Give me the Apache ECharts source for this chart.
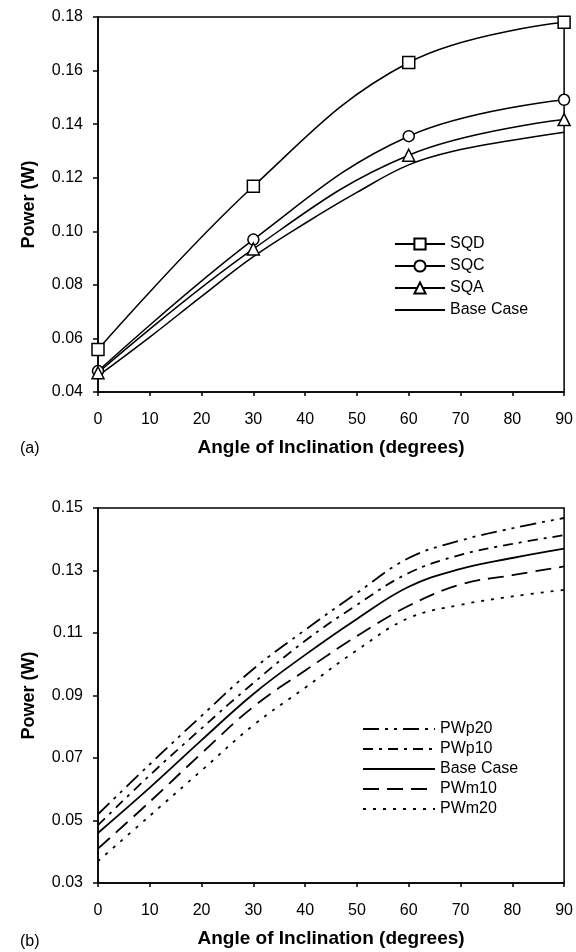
<!DOCTYPE html>
<html>
<head>
<meta charset="utf-8">
<script src="https://cdn.jsdelivr.net/npm/echarts@6/dist/echarts.min.js"></script>
<style>
  html, body { margin: 0; padding: 0; background: #fff; }
  #chart { width: 576px; height: 952px; }
</style>
</head>
<body>
<div id="chart"></div>
<script>
// angles (degrees)
const angles10 = [0, 10, 20, 30, 40, 50, 60, 70, 80, 90]
const angles30 = [0, 30, 60, 90]

// (a) shape cases, read at the marked points
const sqd = [0.0559, 0.1168, 0.1630, 0.1780]
const sqc = [0.0478, 0.0969, 0.1355, 0.1491]
const sqa = [0.0472, 0.0934, 0.1284, 0.1417]

// base case, shared by both panels
const baseCase = [0.0460, 0.0605, 0.0757, 0.0905, 0.1030, 0.1145, 0.1248, 0.1305, 0.1340, 0.1370]

// (b) power variations
const pwp20 = [0.0520, 0.0680, 0.0835, 0.0985, 0.1110, 0.1228, 0.1340, 0.1396, 0.1435, 0.1468]
const pwp10 = [0.0485, 0.0645, 0.0795, 0.0940, 0.1075, 0.1190, 0.1292, 0.1350, 0.1385, 0.1413]
const pwm10 = [0.0410, 0.0560, 0.0715, 0.0864, 0.0980, 0.1090, 0.1187, 0.1255, 0.1285, 0.1313]
const pwm20 = [0.0370, 0.0515, 0.0660, 0.0805, 0.0925, 0.1045, 0.1148, 0.1190, 0.1217, 0.1238]

const xTicks = { min: 0, max: 90, interval: 10 }
const yTicksA = { min: 0.04, max: 0.18, interval: 0.02 }
const yTicksB = { min: 0.03, max: 0.15, interval: 0.02 }

const FONT = 'Liberation Sans, Arial, sans-serif'
const INK = '#000'

const pairs = (xs, ys) => xs.map((x, i) => [x, ys[i]])

const xAxisOf = (gridIndex) => ({
  type: 'value',
  gridIndex,
  min: xTicks.min,
  max: xTicks.max,
  interval: xTicks.interval,
  name: 'Angle of Inclination (degrees)',
  nameLocation: 'middle',
  nameGap: 46,
  nameTextStyle: { fontFamily: FONT, fontSize: 19, fontWeight: 'bold', color: INK },
  axisLine: { lineStyle: { color: INK, width: 1.5 } },
  axisTick: { inside: false, length: 4, lineStyle: { color: INK, width: 1.5 } },
  axisLabel: { margin: 20, fontFamily: FONT, fontSize: 16, color: INK },
  splitLine: { show: false }
})

const yAxisOf = (gridIndex, t) => ({
  type: 'value',
  gridIndex,
  min: t.min,
  max: t.max,
  interval: t.interval,
  name: 'Power (W)',
  nameLocation: 'middle',
  nameGap: 60,
  nameTextStyle: { fontFamily: FONT, fontSize: 18, fontWeight: 'bold', color: INK },
  axisLine: { lineStyle: { color: INK, width: 1.5 } },
  axisTick: { inside: false, length: 5, lineStyle: { color: INK, width: 1.5 } },
  axisLabel: {
    margin: 15, fontFamily: FONT, fontSize: 16, color: INK,
    formatter: (v) => v.toFixed(2)
  },
  splitLine: { show: false }
})

const markerLine = (name, data, symbol, size) => ({
  name,
  type: 'line',
  xAxisIndex: 0,
  yAxisIndex: 0,
  data: pairs(angles30, data),
  smooth: 0.4,
  symbol,
  symbolSize: size,
  itemStyle: { color: '#fff', borderColor: INK, borderWidth: 1.5 },
  lineStyle: { color: INK, width: 1.5 },
  z: 3
})

const dashLine = (name, data, dash) => ({
  name,
  type: 'line',
  xAxisIndex: 1,
  yAxisIndex: 1,
  data: pairs(angles10, data),
  smooth: 0.4,
  symbol: 'none',
  itemStyle: { color: INK },
  lineStyle: { color: INK, width: 1.8, type: dash }
})

// legend entries for plain lines: hide the dot echarts puts on them
const plain = (name) => ({ name, itemStyle: { opacity: 0 } })

const chart = echarts.init(document.getElementById('chart'), null, { renderer: 'canvas' })

chart.setOption({
  backgroundColor: '#fff',
  animation: false,
  grid: [
    { left: 98, right: 9, top: 17, height: 375, show: true, borderColor: INK, borderWidth: 1.5 },
    { left: 98, right: 9, top: 508, height: 375, show: true, borderColor: INK, borderWidth: 1.5 }
  ],
  xAxis: [xAxisOf(0), xAxisOf(1)],
  yAxis: [yAxisOf(0, yTicksA), yAxisOf(1, yTicksB)],
  legend: [
    {
      orient: 'vertical',
      left: 394,
      top: 236,
      padding: 0,
      itemWidth: 50,
      itemHeight: 14,
      itemGap: 6,
      textStyle: { fontFamily: FONT, fontSize: 16, color: INK },
      data: ['SQD', 'SQC', 'SQA', plain('Base Case')]
    },
    {
      orient: 'vertical',
      left: 362,
      top: 721,
      padding: 0,
      itemWidth: 72,
      itemHeight: 12,
      itemGap: 4,
      textStyle: { fontFamily: FONT, fontSize: 16, color: INK },
      data: [plain('PWp20'), plain('PWp10'), plain('Base Case '), plain('PWm10'), plain('PWm20')]
    }
  ],
  graphic: [
    { type: 'text', left: 20, top: 441, style: { text: '(a)', font: '16px ' + FONT, fill: INK } },
    { type: 'text', left: 20, top: 934, style: { text: '(b)', font: '16px ' + FONT, fill: INK } }
  ],
  series: [
    markerLine('SQD', sqd, 'rect', 12),
    markerLine('SQC', sqc, 'circle', 11),
    markerLine('SQA', sqa, 'triangle', 12),
    {
      name: 'Base Case',
      type: 'line',
      xAxisIndex: 0,
      yAxisIndex: 0,
      data: pairs(angles10, baseCase),
      smooth: 0.4,
      symbol: 'none',
      itemStyle: { color: INK },
      lineStyle: { color: INK, width: 1.5 }
    },
    dashLine('PWp20', pwp20, [16, 6, 3, 6, 3, 6]),
    dashLine('PWp10', pwp10, [10, 6, 3, 6]),
    dashLine('Base Case ', baseCase, 'solid'),
    dashLine('PWm10', pwm10, [16, 8]),
    dashLine('PWm20', pwm20, [3, 7])
  ]
})
</script>
</body>
</html>
